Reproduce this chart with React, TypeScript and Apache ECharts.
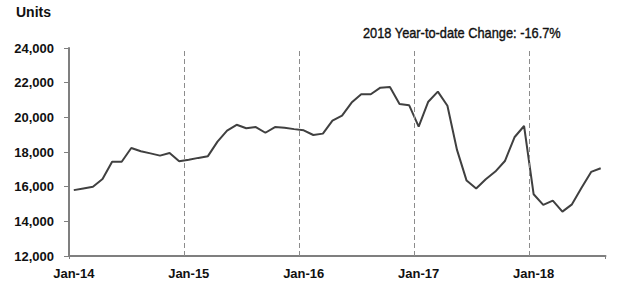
import React, { useEffect, useRef } from "react";
import * as echarts from "echarts";

const months = ["Jan", "Feb", "Mar", "Apr", "May", "Jun", "Jul", "Aug", "Sep", "Oct", "Nov", "Dec"];
const years = ["14", "15", "16", "17", "18"];
const categories: string[] = [];
years.forEach((y) => months.forEach((m) => categories.push(`${m}-${y}`)));
const cats = categories.slice(0, 56);

const units2014 = [15800, 15900, 16000, 16440, 17440, 17440, 18230, 18040, 17920, 17790, 17940, 17460];
const units2015 = [17550, 17660, 17760, 18600, 19230, 19570, 19370, 19440, 19110, 19440, 19400, 19320];
const units2016 = [19250, 18980, 19060, 19810, 20100, 20850, 21330, 21330, 21710, 21750, 20770, 20700];
const units2017 = [19460, 20900, 21480, 20670, 18120, 16350, 15890, 16430, 16870, 17480, 18850, 19500];
const units2018 = [15560, 14950, 15190, 14560, 14980, 15940, 16850, 17060];
const values = [...units2014, ...units2015, ...units2016, ...units2017, ...units2018];

const yTicks = [12000, 14000, 16000, 18000, 20000, 22000, 24000];
const yearDividers = [12, 24, 36, 48];
const titleText = "Units";
const noteText = "2018 Year-to-date Change: -16.7%";

const labelFont = "'Liberation Sans', Arial, sans-serif";

export default function App() {
  const ref = useRef<HTMLDivElement>(null);
  useEffect(() => {
    if (!ref.current) return;
    const chart = echarts.init(ref.current, null, { renderer: "svg" });
    chart.setOption({
      animation: false,
      backgroundColor: "#ffffff",
      grid: { left: 69, right: 16.5, top: 48, bottom: 29, containLabel: false },
      graphic: [
        {
          type: "text",
          left: 16,
          top: 4.5,
          style: { text: titleText, font: `bold 14px ${labelFont}`, fill: "#111" },
        },
        {
          type: "text",
          x: 363,
          y: 25,
          scaleX: 0.853,
          style: {
            text: noteText,
            font: `15px ${labelFont}`,
            fill: "#111",
            stroke: "#111",
            lineWidth: 0.4,
          },
        },
      ],
      xAxis: [
        {
          type: "category",
          data: cats,
          boundaryGap: true,
          axisLine: { show: true, lineStyle: { color: "#7f7f7f", width: 2 } },
          axisTick: { show: true, interval: (i: number) => i === 0, length: 3, lineStyle: { color: "#7f7f7f", width: 1 } },
          axisLabel: {
            interval: (i: number) => i % 12 === 0,
            margin: 11,
            fontFamily: labelFont,
            fontWeight: "bold",
            fontSize: 13,
            color: "#111",
          },
          splitLine: { show: false },
        },
        {
          type: "value",
          show: false,
          min: 0,
          max: cats.length,
          splitLine: { show: false },
        },
      ],
      yAxis: {
        type: "value",
        min: yTicks[0],
        max: yTicks[yTicks.length - 1],
        interval: 2000,
        axisLine: { show: true, lineStyle: { color: "#7f7f7f", width: 2 } },
        axisTick: { show: true, length: 5, lineStyle: { color: "#7f7f7f", width: 1 } },
        axisLabel: {
          margin: 15,
          fontFamily: labelFont,
          fontWeight: "bold",
          fontSize: 13,
          color: "#111",
          formatter: (v: number) => v.toLocaleString("en-US"),
        },
        splitLine: { show: false },
      },
      series: [
        {
          type: "line",
          xAxisIndex: 1,
          data: [],
          silent: true,
          markLine: {
            silent: true,
            symbol: "none",
            label: { show: false },
            lineStyle: { color: "#8c8c8c", width: 1, type: [5, 3] },
            data: yearDividers.map((d) => ({ xAxis: d })),
          },
        },
        {
          type: "line",
          data: values,
          symbol: "none",
          lineStyle: { color: "#404040", width: 2 },
        },
      ],
    });
    return () => chart.dispose();
  }, []);
  return <div ref={ref} style={{ position: "fixed", left: 0, top: 0, width: 622, height: 285 }} />;
}
